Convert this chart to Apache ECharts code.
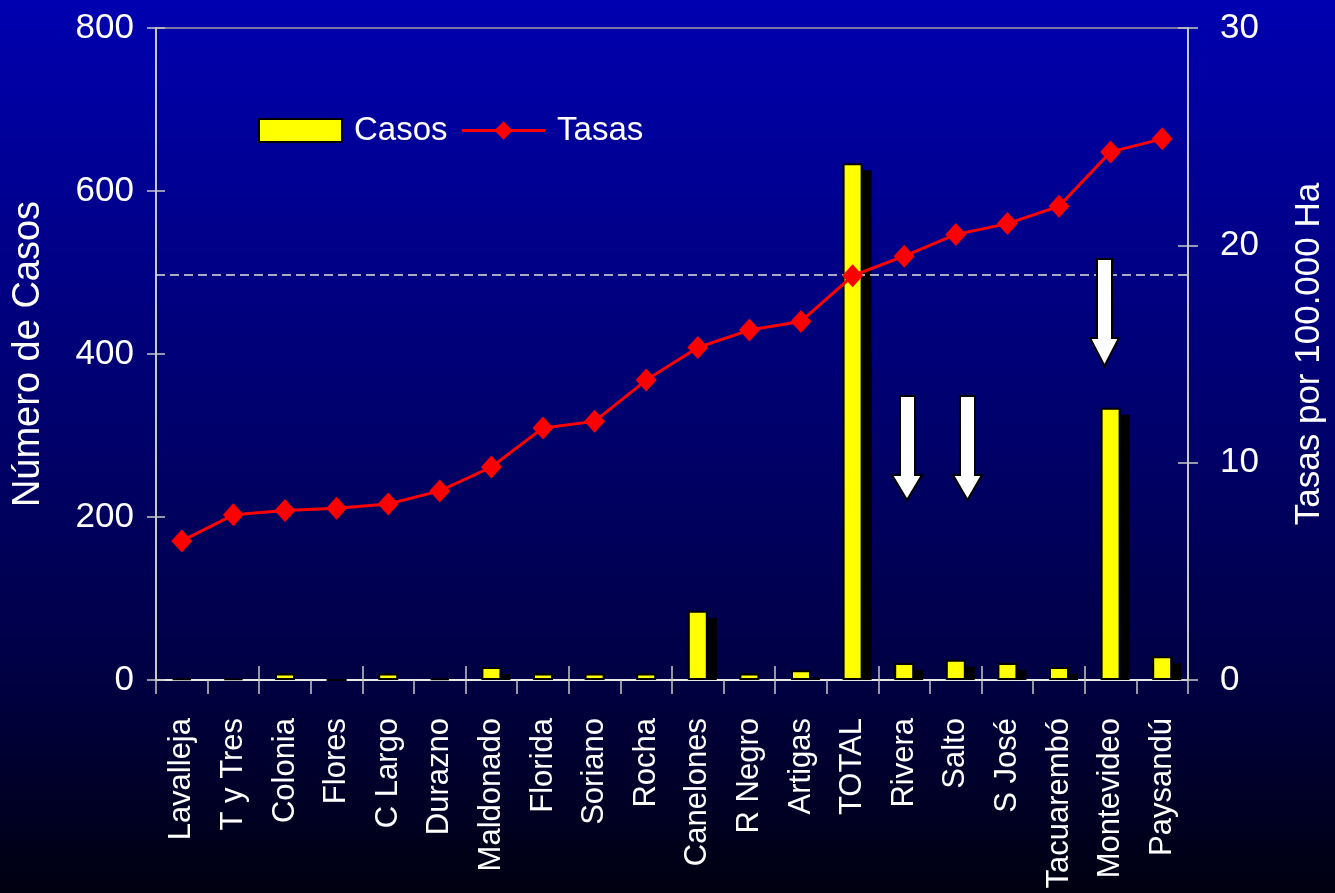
<!DOCTYPE html>
<html><head><meta charset="utf-8">
<script src="https://cdn.jsdelivr.net/npm/echarts@6/dist/echarts.min.js"></script>
<style>html,body{margin:0;padding:0;background:#000;}#chart{width:1335px;height:893px;}</style>
</head><body><div id="chart"></div>
<script>
const categorias = ['Lavalleja','T y Tres','Colonia','Flores','C Largo','Durazno','Maldonado','Florida','Soriano','Rocha','Canelones','R Negro','Artigas','TOTAL','Rivera','Salto','S José','Tacuarembó','Montevideo','Paysandú'];
const casos = [2, 2, 8, 0, 8, 2, 16, 8, 8, 8, 85, 8, 12, 634, 21, 25, 21, 16, 334, 29];
const tasas = [6.4, 7.6, 7.8, 7.9, 8.1, 8.7, 9.8, 11.6, 11.9, 13.8, 15.3, 16.1, 16.5, 18.6, 19.5, 20.5, 21.0, 21.8, 24.3, 24.9];
const tasaReferencia = 18.65;
const ejeCasos = { min: 0, max: 800, interval: 200 };
const ejeTasas = { min: 0, max: 30, interval: 10 };

const FONT = "'Liberation Sans', Arial, sans-serif";
const chart = echarts.init(document.getElementById('chart'), null, { renderer: 'canvas' });

const axisGrey = '#c8c8c8';
const BAR_W = 20;

function arrow(pts) {
  return { type: 'polygon', shape: { points: pts }, style: { fill: '#fff', stroke: '#000', lineWidth: 2 }, z: 20 };
}

const option = {
  animation: false,
  backgroundColor: {
    type: 'linear', x: 0, y: 0, x2: 0, y2: 1,
    colorStops: [
      { offset: 0, color: '#0000b0' },
      { offset: 0.75, color: '#000045' },
      { offset: 1, color: '#000010' }
    ]
  },
  grid: { left: 156, right: 147, top: 28, bottom: 213, outerBoundsMode: 'none', containLabel: false, show: true, borderColor: '#a0a0a0', borderWidth: 1.5, backgroundColor: 'transparent' },
  legend: {
    data: [{ name: 'Casos', icon: 'rect' }, { name: 'Tasas', lineStyle: { width: 3 } }],
    left: 253, top: 109,
    itemWidth: 83, itemHeight: 23, itemGap: 13,
    textStyle: { color: '#fff', fontSize: 33, fontFamily: FONT, padding: [0, 0, 0, 7] }
  },
  xAxis: [
    {
      type: 'category', data: categorias, position: 'bottom',
      axisLine: { show: true, lineStyle: { color: '#e8e8e8', width: 2 } },
      axisTick: { show: true, length: 14, lineStyle: { color: axisGrey, width: 1.5 } },
      axisLabel: { color: '#fff', fontSize: 31, fontFamily: FONT, rotate: 90, margin: 38, interval: 0 },
      splitLine: { show: false }
    },
    {
      type: 'category', data: categorias, position: 'bottom', offset: 0,
      axisLine: { show: false },
      axisTick: { show: true, inside: true, length: 14, lineStyle: { color: axisGrey, width: 1.5 } },
      axisLabel: { show: false }, splitLine: { show: false }
    }
  ],
  yAxis: [
    {
      type: 'value', position: 'left', min: ejeCasos.min, max: ejeCasos.max, interval: ejeCasos.interval,
      name: 'Número de Casos', nameLocation: 'middle', nameRotate: 90, nameGap: 108,
      nameTextStyle: { color: '#fff', fontSize: 38, fontFamily: FONT },
      axisLine: { show: true, lineStyle: { color: axisGrey, width: 2 } },
      axisTick: { show: true, length: 9, lineStyle: { color: axisGrey, width: 1.5 } },
      axisLabel: { color: '#fff', fontSize: 35, fontFamily: FONT, margin: 22 },
      splitLine: { show: false }
    },
    {
      type: 'value', position: 'right', min: ejeTasas.min, max: ejeTasas.max, interval: ejeTasas.interval,
      name: 'Tasas por 100.000 Ha', nameLocation: 'middle', nameRotate: 90, nameGap: 104,
      nameTextStyle: { color: '#fff', fontSize: 35, fontFamily: FONT },
      axisLine: { show: true, lineStyle: { color: axisGrey, width: 2 } },
      axisTick: { show: true, length: 10, lineStyle: { color: axisGrey, width: 1.5 } },
      axisLabel: { color: '#fff', fontSize: 35, fontFamily: FONT, margin: 32 },
      splitLine: { show: false }
    },
    {
      type: 'value', position: 'left', offset: 0, min: ejeCasos.min, max: ejeCasos.max, interval: ejeCasos.interval,
      axisLine: { show: false },
      axisTick: { show: true, inside: true, length: 9, lineStyle: { color: axisGrey, width: 1.5 } },
      axisLabel: { show: false }, splitLine: { show: false }
    },
    {
      type: 'value', position: 'right', offset: 0, min: ejeTasas.min, max: ejeTasas.max, interval: ejeTasas.interval,
      axisLine: { show: false },
      axisTick: { show: true, inside: true, length: 10, lineStyle: { color: axisGrey, width: 1.5 } },
      axisLabel: { show: false }, splitLine: { show: false }
    }
  ],
  series: [
    {
      name: 'sombra', type: 'custom', xAxisIndex: 0, yAxisIndex: 0, z: 1, silent: true,
      data: casos.map((v, i) => [i, v]),
      renderItem: function (params, api) {
        const v = api.value(1);
        if (!v) return null;
        const top = api.coord([api.value(0), v]);
        const base = api.coord([api.value(0), 0]);
        const y0 = top[1] + 7;
        const h = base[1] - y0;
        if (h <= 0) return null;
        return { type: 'rect', shape: { x: top[0] - BAR_W / 2 + 9, y: y0, width: BAR_W, height: h }, style: { fill: '#000' } };
      }
    },
    {
      name: 'Casos', type: 'bar', xAxisIndex: 0, yAxisIndex: 0, z: 2,
      data: casos, barWidth: BAR_W,
      itemStyle: { color: '#ffff00', borderColor: '#000', borderWidth: 2 }
    },
    {
      name: 'Tasas', type: 'line', xAxisIndex: 0, yAxisIndex: 1, z: 5,
      data: tasas,
      symbol: 'diamond', symbolSize: [21, 23],
      lineStyle: { color: '#ff0000', width: 3 },
      itemStyle: { color: '#ff0000' },
      markLine: {
        silent: true, symbol: 'none', label: { show: false },
        lineStyle: { color: '#e0e0e0', type: [9, 5], width: 1.5 },
        data: [{ yAxis: tasaReferencia }]
      }
    }
  ],
  graphic: [
    arrow([[900,396],[915,396],[915,475],[922,475],[907,500],[892,475],[900,475]]),
    arrow([[960,396],[975,396],[975,475],[982,475],[967.5,500],[953,475],[960,475]]),
    arrow([[1097,259],[1112,259],[1112,338],[1119,338],[1104.5,366],[1090,338],[1097,338]])
  ]
};
chart.setOption(option);
</script>
</body></html>
